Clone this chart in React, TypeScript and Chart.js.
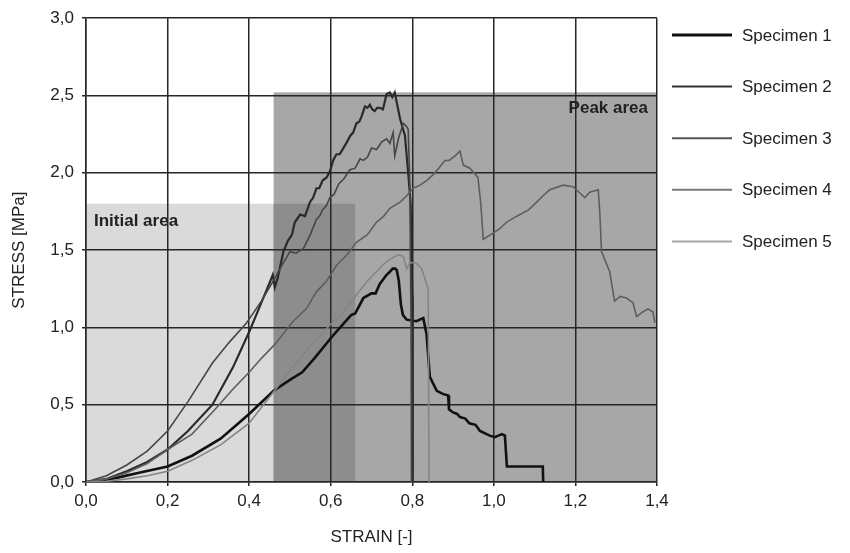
import React, { useEffect, useRef } from 'react';
import { Chart, registerables } from 'chart.js';

Chart.register(...registerables);

const FONT = '"Liberation Sans", Arial, Helvetica, sans-serif';

const seriesNames = ['Specimen 1', 'Specimen 2', 'Specimen 3', 'Specimen 4', 'Specimen 5'];
const seriesColors = ['#111111', '#2a2a2a', '#464646', '#5e5e5e', '#858585'];
const seriesWidths = [2.6, 2.2, 1.6, 1.6, 1.6];
const legendColors = ['#111111', '#333333', '#555555', '#7a7a7a', '#a5a5a5'];
const legendWidths = [3.2, 2, 2, 2, 2];

// Specimen 1 (black, low peak with stepped tail)
const spec1X = [0, 0.03, 0.08, 0.13, 0.2, 0.26, 0.33, 0.4, 0.46, 0.5, 0.53, 0.56, 0.6, 0.62, 0.65, 0.66, 0.68, 0.7, 0.71, 0.72, 0.737, 0.745, 0.752, 0.758, 0.762, 0.767, 0.772, 0.777, 0.786, 0.81, 0.827, 0.835, 0.843, 0.86, 0.875, 0.888, 0.89, 0.9, 0.91, 0.917, 0.93, 0.94, 0.955, 0.966, 0.99, 1.002, 1.02, 1.027, 1.032, 1.12, 1.121];
const spec1Y = [0, 0.005, 0.03, 0.06, 0.1, 0.17, 0.28, 0.44, 0.59, 0.66, 0.71, 0.8, 0.93, 0.99, 1.08, 1.09, 1.19, 1.22, 1.22, 1.28, 1.34, 1.36, 1.38, 1.38, 1.37, 1.3, 1.15, 1.08, 1.05, 1.04, 1.06, 0.955, 0.68, 0.59, 0.57, 0.56, 0.47, 0.45, 0.44, 0.42, 0.41, 0.38, 0.37, 0.33, 0.3, 0.29, 0.31, 0.3, 0.1, 0.1, 0];

// Specimen 2 (highest peak ~2.52)
const spec2X = [0, 0.05, 0.1, 0.15, 0.2, 0.25, 0.31, 0.36, 0.4, 0.43, 0.452, 0.458, 0.463, 0.47, 0.484, 0.495, 0.505, 0.512, 0.525, 0.537, 0.549, 0.557, 0.565, 0.572, 0.58, 0.59, 0.598, 0.606, 0.614, 0.622, 0.631, 0.64, 0.648, 0.655, 0.663, 0.67, 0.675, 0.684, 0.69, 0.696, 0.702, 0.708, 0.714, 0.72, 0.728, 0.737, 0.745, 0.751, 0.757, 0.77, 0.782, 0.79, 0.796, 0.8, 0.801];
const spec2Y = [0, 0.02, 0.07, 0.13, 0.21, 0.33, 0.5, 0.74, 0.97, 1.16, 1.3, 1.34, 1.26, 1.32, 1.49, 1.56, 1.6, 1.68, 1.73, 1.72, 1.81, 1.84, 1.9, 1.9, 1.95, 1.97, 2.01, 2.08, 2.12, 2.12, 2.16, 2.2, 2.24, 2.26, 2.32, 2.33, 2.36, 2.43, 2.42, 2.44, 2.41, 2.4, 2.42, 2.42, 2.41, 2.51, 2.52, 2.49, 2.52, 2.35, 2.24, 2.0, 1.8, 1.2, 0];

// Specimen 3 (peak ~2.3)
const spec3X = [0, 0.05, 0.1, 0.15, 0.2, 0.25, 0.31, 0.35, 0.394, 0.43, 0.459, 0.48, 0.5, 0.515, 0.533, 0.55, 0.565, 0.573, 0.58, 0.59, 0.598, 0.608, 0.62, 0.632, 0.647, 0.66, 0.672, 0.68, 0.69, 0.7, 0.712, 0.72, 0.725, 0.737, 0.745, 0.753, 0.757, 0.766, 0.778, 0.786, 0.79, 0.794, 0.797, 0.798];
const spec3Y = [0, 0.04, 0.11, 0.2, 0.33, 0.52, 0.77, 0.9, 1.03, 1.17, 1.3, 1.4, 1.49, 1.48, 1.51, 1.6, 1.7, 1.72, 1.76, 1.79, 1.84, 1.86, 1.93, 1.96, 2.02, 2.03, 2.09, 2.08, 2.1, 2.16, 2.15, 2.18, 2.2, 2.22, 2.19, 2.26, 2.11, 2.22, 2.32, 2.3, 2.28, 1.92, 1.0, 0];

// Specimen 4 (peak ~2.13, long tail)
const spec4X = [0, 0.05, 0.1, 0.15, 0.2, 0.26, 0.32, 0.36, 0.4, 0.43, 0.463, 0.508, 0.54, 0.565, 0.59, 0.614, 0.64, 0.663, 0.69, 0.712, 0.73, 0.745, 0.77, 0.786, 0.802, 0.819, 0.835, 0.852, 0.865, 0.88, 0.89, 0.905, 0.917, 0.925, 0.941, 0.961, 0.968, 0.974, 0.998, 1.015, 1.031, 1.05, 1.064, 1.085, 1.105, 1.12, 1.137, 1.17, 1.194, 1.223, 1.235, 1.256, 1.26, 1.264, 1.284, 1.296, 1.31, 1.325, 1.341, 1.35, 1.365, 1.378, 1.39, 1.395];
const spec4Y = [0, 0.02, 0.06, 0.12, 0.21, 0.31, 0.48, 0.6, 0.71, 0.8, 0.89, 1.04, 1.12, 1.23, 1.3, 1.4, 1.47, 1.55, 1.6, 1.68, 1.72, 1.77, 1.81, 1.85, 1.9, 1.92, 1.95, 1.99, 2.03, 2.08, 2.08, 2.11, 2.14, 2.05, 2.03, 1.97, 1.8, 1.57, 1.61, 1.64, 1.68, 1.71, 1.73, 1.76, 1.81, 1.85, 1.89, 1.92, 1.91, 1.84, 1.875, 1.89, 1.73, 1.49, 1.36, 1.17, 1.2, 1.19, 1.16, 1.07, 1.1, 1.12, 1.1, 1.03];

// Specimen 5 (peak ~1.47)
const spec5X = [0, 0.05, 0.1, 0.15, 0.2, 0.26, 0.33, 0.4, 0.45, 0.5, 0.55, 0.6, 0.63, 0.663, 0.69, 0.712, 0.73, 0.745, 0.765, 0.778, 0.786, 0.795, 0.81, 0.823, 0.839, 0.841];
const spec5Y = [0, 0.005, 0.02, 0.04, 0.07, 0.14, 0.24, 0.38, 0.55, 0.72, 0.88, 1.02, 1.1, 1.21, 1.3, 1.36, 1.41, 1.44, 1.47, 1.46, 1.38, 1.42, 1.415, 1.38, 1.25, 0];

const seriesX = [spec1X, spec2X, spec3X, spec4X, spec5X];
const seriesY = [spec1Y, spec2Y, spec3Y, spec4Y, spec5Y];

// Shaded regions
const initialAreaX = [0, 0.66];
const initialAreaY = [0, 1.8];
const peakAreaX = [0.46, 1.4];
const peakAreaY = [0, 2.52];
const areaLabels = ['Initial area', 'Peak area'];

const xTicks = [0, 0.2, 0.4, 0.6, 0.8, 1.0, 1.2, 1.4];
const yTicks = [0, 0.5, 1.0, 1.5, 2.0, 2.5, 3.0];
const fmt = (v: number) => v.toFixed(1).replace('.', ',');

const GRID = '#262626';

const decorPlugin = {
  id: 'decor',
  beforeDraw(chart: any) {
    const { ctx } = chart;
    const xs = chart.scales.x;
    const ys = chart.scales.y;
    const rect = (x0: number, x1: number, y0: number, y1: number, color: string) => {
      const l = xs.getPixelForValue(x0);
      const r = xs.getPixelForValue(x1);
      const t = ys.getPixelForValue(y1);
      const b = ys.getPixelForValue(y0);
      ctx.fillStyle = color;
      ctx.fillRect(l, t, r - l, b - t);
    };
    ctx.save();
    rect(initialAreaX[0], initialAreaX[1], initialAreaY[0], initialAreaY[1], '#dadada');
    rect(peakAreaX[0], peakAreaX[1], peakAreaY[0], peakAreaY[1], '#a7a7a7');
    rect(
      Math.max(initialAreaX[0], peakAreaX[0]),
      Math.min(initialAreaX[1], peakAreaX[1]),
      Math.max(initialAreaY[0], peakAreaY[0]),
      Math.min(initialAreaY[1], peakAreaY[1]),
      '#8d8d8d'
    );
    ctx.restore();
  },
  afterDatasetsDraw(chart: any) {
    const { ctx } = chart;
    const xs = chart.scales.x;
    const ys = chart.scales.y;
    ctx.save();
    ctx.fillStyle = '#222';
    ctx.font = `bold 17px ${FONT}`;
    ctx.textBaseline = 'alphabetic';
    ctx.textAlign = 'left';
    ctx.fillText(areaLabels[0], xs.getPixelForValue(initialAreaX[0]) + 8, ys.getPixelForValue(initialAreaY[1]) + 22);
    ctx.textAlign = 'right';
    ctx.fillText(areaLabels[1], xs.getPixelForValue(peakAreaX[1]) - 9, ys.getPixelForValue(peakAreaY[1]) + 21);
    ctx.restore();
  },
  afterDraw(chart: any) {
    const { ctx } = chart;
    ctx.save();
    ctx.font = `17px ${FONT}`;
    ctx.textBaseline = 'middle';
    ctx.textAlign = 'left';
    seriesNames.forEach((name, i) => {
      const y = 35 + i * 51.6;
      ctx.strokeStyle = legendColors[i];
      ctx.lineWidth = legendWidths[i];
      ctx.beginPath();
      ctx.moveTo(672, y);
      ctx.lineTo(732, y);
      ctx.stroke();
      ctx.fillStyle = '#222';
      ctx.fillText(name, 742, y + 1);
    });
    ctx.restore();
  },
};

export default function App() {
  const ref = useRef<HTMLCanvasElement | null>(null);
  useEffect(() => {
    if (!ref.current) return;
    const datasets = seriesNames.map((name, i) => ({
      label: name,
      data: seriesX[i].map((x, j) => ({ x, y: seriesY[i][j] })),
      borderColor: seriesColors[i],
      backgroundColor: seriesColors[i],
      borderWidth: seriesWidths[i],
      showLine: true,
      pointRadius: 0,
      tension: 0,
      fill: false,
    }));
    const chart = new Chart(ref.current, {
      type: 'scatter',
      data: { datasets: datasets.slice().reverse() as any },
      options: {
        responsive: false,
        animation: false,
        events: [],
        layout: { padding: { left: 0, top: 15, right: 193, bottom: 0 } },
        plugins: { legend: { display: false }, tooltip: { enabled: false } },
        scales: {
          x: {
            type: 'linear',
            min: 0,
            max: 1.4,
            afterBuildTicks: (s: any) => { s.ticks = xTicks.map((v) => ({ value: v })); },
            afterFit: (s: any) => { s.height = 71; },
            grid: { color: GRID, lineWidth: 1.5, tickLength: 4, drawTicks: true },
            border: { color: GRID, width: 1.5 },
            ticks: { color: '#222', font: { family: FONT, size: 17 }, padding: 5, callback: (v: any) => fmt(Number(v)) },
            title: { display: true, text: 'STRAIN [-]', color: '#222', font: { family: FONT, size: 17 }, padding: { top: 0, bottom: 5 } },
          },
          y: {
            type: 'linear',
            min: 0,
            max: 3,
            afterBuildTicks: (s: any) => { s.ticks = yTicks.map((v) => ({ value: v })); },
            afterFit: (s: any) => { s.width = 86; },
            grid: { color: GRID, lineWidth: 1.5, tickLength: 4, drawTicks: true },
            border: { color: GRID, width: 1.5 },
            ticks: { color: '#222', font: { family: FONT, size: 17 }, padding: 8, callback: (v: any) => fmt(Number(v)) },
            title: { display: true, text: 'STRESS [MPa]', color: '#222', font: { family: FONT, size: 17 }, padding: { top: 9, bottom: 0 } },
          },
        },
      },
      plugins: [decorPlugin],
    });
    return () => chart.destroy();
  }, []);
  return (
    <div style={{ position: 'fixed', left: 0, top: 0, width: 850, height: 553, background: '#fff' }}>
      <canvas ref={ref} width={850} height={553} style={{ display: 'block' }} />
    </div>
  );
}
